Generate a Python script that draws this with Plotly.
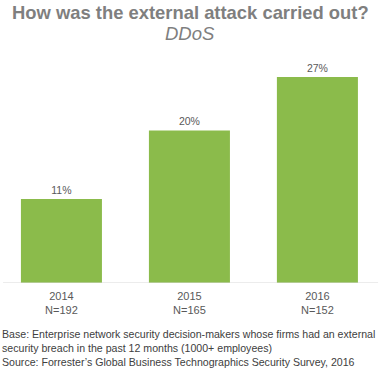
import plotly.graph_objects as go

categories = ["2014", "2015", "2016"]
sample_sizes = ["N=192", "N=165", "N=152"]
values = [11, 20, 27]

tick_text = [f"{c}<br>{n}" for c, n in zip(categories, sample_sizes)]

FONT = "Arial, Liberation Sans, sans-serif"
GREEN = "#8BBB4B"
GRAY = "#595959"

fig = go.Figure(go.Bar(
    x=list(range(len(categories))),
    y=values,
    marker=dict(color=GREEN, line=dict(width=0)),
    width=0.633,
    text=[f"{v}%" for v in values],
    textposition="outside",
    cliponaxis=False,
    textfont=dict(family=FONT, size=10.5, color=GRAY),
))

fig.update_layout(
    width=380, height=370,
    margin=dict(l=0, r=0, t=50, b=87, autoexpand=False),
    paper_bgcolor="white", plot_bgcolor="white",
    showlegend=False,
    xaxis=dict(
        range=[-0.48, 2.489],
        tickmode="array",
        tickvals=list(range(len(categories))),
        ticktext=tick_text,
        tickfont=dict(family=FONT, size=11, color=GRAY),
        showgrid=False, zeroline=False,
        showline=False,
        ticks="",
        ticklabelstandoff=5,
        automargin=False,
    ),
    yaxis=dict(range=[0, 30.54], visible=False, automargin=False),
    shapes=[dict(type="line", xref="paper", yref="y", x0=0.008, x1=0.995, y0=0, y1=0,
                 line=dict(color="#D9D9D9", width=1))],
    annotations=[
        dict(text="<b>How was the external attack carried out?</b>", xref="paper", yref="paper",
             x=0.5, y=1, yanchor="middle", xanchor="center", yshift=38,
             showarrow=False, font=dict(family=FONT, size=18.4, color="#7F7F7F")),
        dict(text="<i>DDoS</i>", xref="paper", yref="paper",
             x=0.5, y=1, yanchor="middle", xanchor="center", yshift=17,
             showarrow=False, font=dict(family=FONT, size=18.5, color="#7F7F7F")),
        dict(text="Base: Enterprise network security decision-makers whose firms had an external<br>"
                  "security breach in the past 12 months (1000+ employees)<br>"
                  "Source: Forrester\u2019s Global Business Technographics Security Survey, 2016",
             xref="paper", yref="paper", x=0, y=0, xanchor="left", yanchor="top",
             yshift=-43, xshift=0, align="left", showarrow=False,
             font=dict(family=FONT, size=10.6, color="#404040")),
    ],
)

fig.write_html("out.html", post_script="document.body.style.margin='0';",
               config={"displayModeBar": False})
